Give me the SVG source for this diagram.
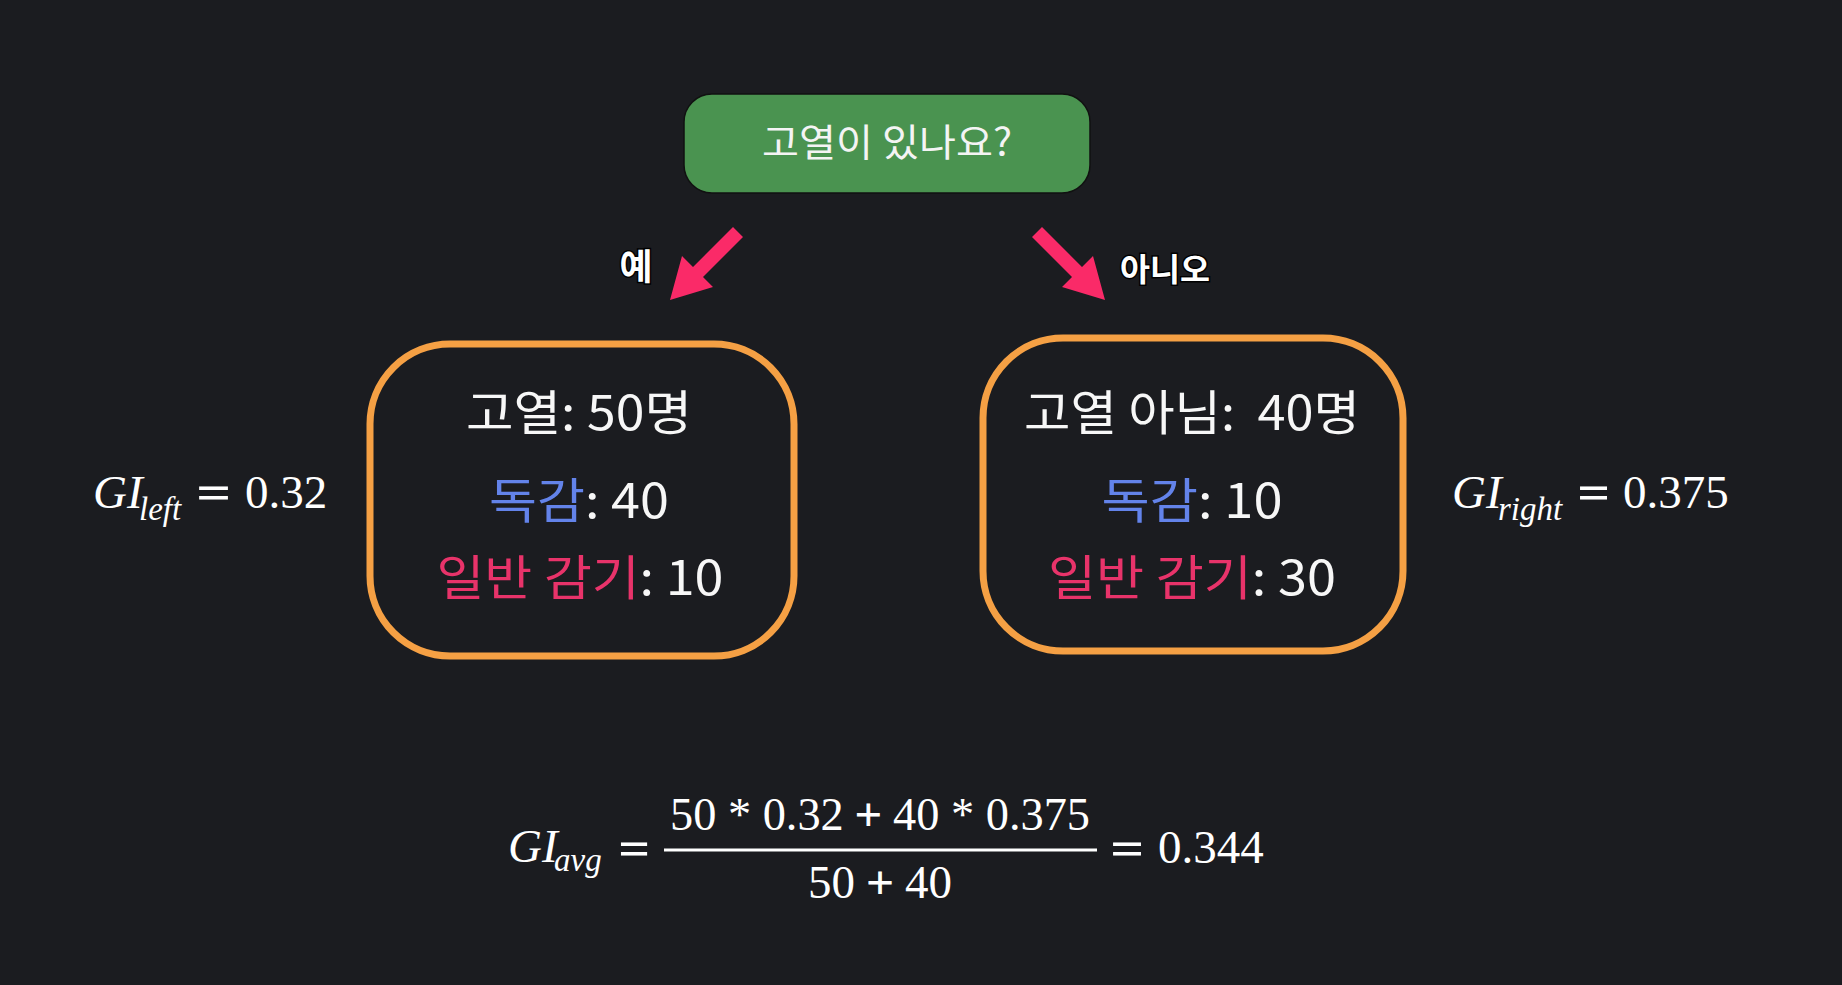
<svg xmlns="http://www.w3.org/2000/svg" width="1842" height="985" viewBox="0 0 1842 985">
<style>
.ko{font-family:"Noto Sans CJK KR","Noto Sans",sans-serif;}
.box{fill:#1b1c20;stroke:#f5a044;stroke-width:7;}
.t{fill:#f7f7f7;font-size:48px;text-anchor:middle;}
.blue{fill:#6383ea;}
.red{fill:#e8336a;}
.hand{font-family:"Noto Sans CJK KR",sans-serif;font-weight:bold;fill:#ffffff;stroke:#000;stroke-width:3;paint-order:stroke;}
.m{font-family:"Liberation Serif","Times New Roman",serif;fill:#ffffff;}
.mi{font-style:italic;}
.op{stroke:#fff;stroke-width:1.2;}
.arrow{fill:#fa2a68;}
</style>
<rect width="1842" height="985" fill="#1b1c20"/>
<g id="question">
<rect x="684" y="94" width="406" height="99" rx="28" fill="#4a9350" stroke="#111" stroke-width="1.5"/>
<text class="ko" x="887" y="156" font-size="38" fill="#f4f4f4" text-anchor="middle" textLength="250" lengthAdjust="spacingAndGlyphs">고열이 있나요?</text>
</g>
<g id="connectors">
<polygon class="arrow" points="733,227 743,237 703,277 713,287 670,300 682,256 693,267"/>
<polygon class="arrow" points="1042,227 1032,237 1072,277 1062,287 1105,300 1093,256 1082,267"/>
<text class="hand" x="636" y="280" font-size="36" text-anchor="middle">예</text>
<text class="hand" x="1120" y="281" font-size="32" textLength="90" lengthAdjust="spacingAndGlyphs">아니오</text>
</g>
<g id="left-node">
<rect class="box" x="370" y="344" width="424" height="312" rx="80"/>
<text class="ko t" x="579" y="430" textLength="226" lengthAdjust="spacingAndGlyphs">고열: 50명</text>
<text class="ko t" x="579" y="518" textLength="180" lengthAdjust="spacingAndGlyphs"><tspan class="blue">독감</tspan>: 40</text>
<text class="ko t" x="580" y="595" textLength="287" lengthAdjust="spacingAndGlyphs"><tspan class="red">일반 감기</tspan>: 10</text>
</g>
<g id="right-node">
<rect class="box" x="983" y="338" width="420" height="313" rx="80"/>
<text class="ko t" x="1192" y="430" xml:space="preserve" textLength="336" lengthAdjust="spacingAndGlyphs">고열 아님:  40명</text>
<text class="ko t" x="1192" y="518" textLength="181" lengthAdjust="spacingAndGlyphs"><tspan class="blue">독감</tspan>: 10</text>
<text class="ko t" x="1192" y="595" textLength="288" lengthAdjust="spacingAndGlyphs"><tspan class="red">일반 감기</tspan>: 30</text>
</g>
<g id="gi-left" class="m">
<text class="mi" x="93" y="508" font-size="47">GI</text>
<text class="mi" x="139" y="520" font-size="33">left</text>
<text class="op" x="197" y="508" font-size="47" textLength="33" lengthAdjust="spacingAndGlyphs">=</text>
<text x="245" y="508" font-size="47">0.32</text>
</g>
<g id="gi-right" class="m">
<text class="mi" x="1452" y="508" font-size="47">GI</text>
<text class="mi" x="1498" y="520" font-size="33">right</text>
<text class="op" x="1578" y="508" font-size="47" textLength="31" lengthAdjust="spacingAndGlyphs">=</text>
<text x="1623" y="508" font-size="47">0.375</text>
</g>
<g id="gi-avg" class="m">
<text class="mi" x="508" y="862" font-size="47">GI</text>
<text class="mi" x="554" y="871" font-size="33">avg</text>
<text class="op" x="619" y="864" font-size="47" textLength="30" lengthAdjust="spacingAndGlyphs">=</text>
<line x1="664" y1="850" x2="1097" y2="850" stroke="#fff" stroke-width="3"/>
<text x="880" y="830" font-size="47" text-anchor="middle" textLength="420" lengthAdjust="spacingAndGlyphs">50 * 0.32 <tspan class="op">+</tspan> 40 * 0.375</text>
<text x="880" y="898" font-size="47" text-anchor="middle">50 <tspan class="op">+</tspan> 40</text>
<text class="op" x="1111" y="864" font-size="47" textLength="32" lengthAdjust="spacingAndGlyphs">=</text>
<text x="1158" y="863" font-size="47">0.344</text>
</g>
</svg>
